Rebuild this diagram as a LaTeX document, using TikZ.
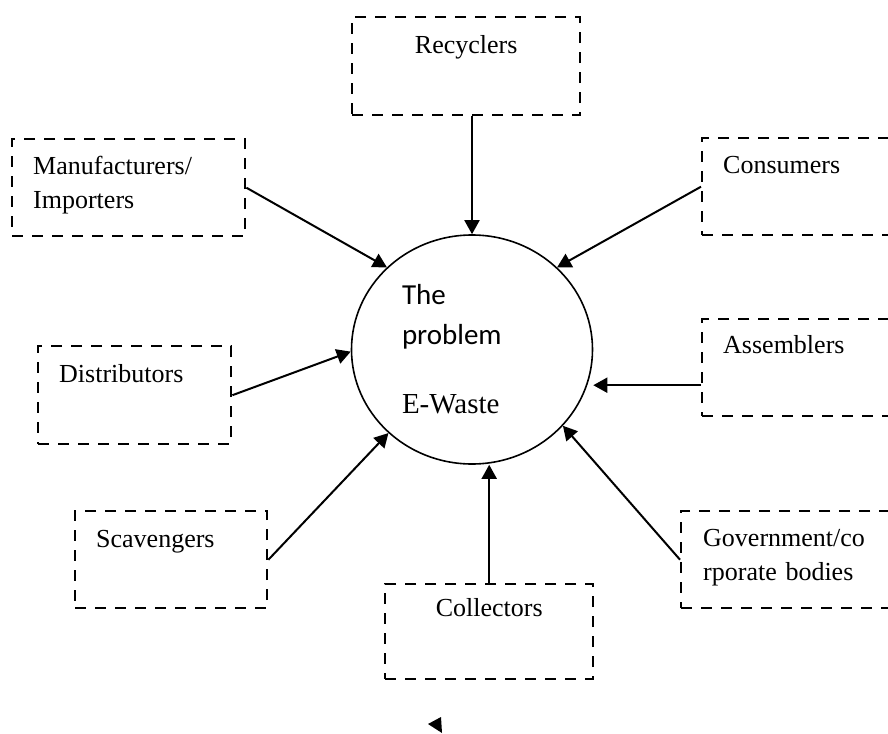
\documentclass[tikz,border=0pt]{standalone}
\usepackage{fontspec}
\setmainfont{Liberation Serif}
\newfontfamily\calfont{Carlito}
\usetikzlibrary{shapes.geometric, arrows.meta, positioning}
\tikzstyle{actor} = [rectangle, draw=black, line width=1.2pt, dash pattern=on 5.5pt off 4.5pt, inner sep=0pt, inner xsep=10.5pt, anchor=north west, text height=17.5pt, text depth=31pt, align=left, font=\fontsize{13}{17}\selectfont]
\tikzstyle{problem} = [ellipse, draw=black, line width=0.8pt, minimum width=120.5pt, minimum height=114.5pt, inner sep=0pt, text width=70pt, align=left, font=\fontsize{14.5}{20}\selectfont]
\tikzstyle{arrow} = [line width=1pt, -{Triangle[length=7pt,width=7.5pt]}]

\begin{document}
\begin{tikzpicture}[x=0.5pt, y=-0.5pt]
    \useasboundingbox (0,0) rectangle (888,733);

    % Centre
    \node[problem] (prob) at (472,349.5) {{\calfont The}\\{\calfont problem}\\[14.5pt]E-Waste};

    % Stakeholders
    \node[actor, align=center, inner xsep=0pt, text width=114pt, text height=18pt] (recyclers) at (351,16) {Recyclers};
    \node[actor, text width=95.5pt] (manuf) at (11,138) {Manufacturers/\\Importers};
    \node[actor, text width=76.5pt] (consumers) at (701,137) {Consumers};
    \node[actor, text width=75.5pt, text height=18pt] (distrib) at (37,345) {Distributors};
    \node[actor, text width=76.5pt, text height=17pt, text depth=31.5pt] (assembl) at (701,318) {Assemblers};
    \node[actor, text width=75pt, text height=18pt, text depth=30.5pt] (scav) at (74,510) {Scavengers};
    \node[actor, inner xsep=11pt, text width=86pt] (gov) at (680,510) {Government/co\\rporate bodies};
    \node[actor, align=center, inner xsep=0pt, text width=104pt, text height=16pt, text depth=31.5pt] (collect) at (384,583) {Collectors};

    % Flows
    \draw[arrow] (recyclers.south -| prob.north) -- (prob.north);
    \draw[arrow] (manuf.east) -- (prob.136);
    \draw[arrow] (consumers.west) -- (prob.44);
    \draw[arrow] (distrib.east) -- (prob.181);
    \draw[arrow] ([yshift=-8.75pt]assembl.west) -- ([yshift=-8.75pt]assembl.west -| prob.east);
    \draw[arrow] (scav.east) -- (prob.225);
    \draw[arrow] (gov.west) -- (prob.320);
    \draw[arrow] (collect.north) -- (collect.north |- prob.south);

    % stray tip
    \fill (428,724) -- (441,717) -- (442,733) -- cycle;
\end{tikzpicture}
\end{document}
